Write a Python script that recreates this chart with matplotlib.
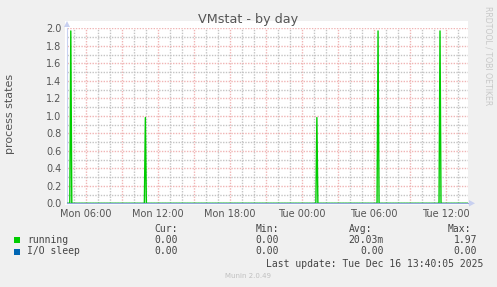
import matplotlib
matplotlib.use("Agg")
import matplotlib.pyplot as plt
import matplotlib.dates as mdates
from matplotlib.patches import Rectangle, Polygon
from datetime import datetime, timedelta

# data
spike_times = ["2025-12-15 04:45", "2025-12-15 10:58", "2025-12-16 01:16",
               "2025-12-16 06:22", "2025-12-16 11:32"]
spike_vals = [1.97, 0.98, 0.98, 1.97, 1.97]
x_start = "2025-12-15 04:26"
x_end = "2025-12-16 13:52"

series_names = ["running", "I/O sleep"]
series_colors = ["#00CC00", "#0066B3"]
cur_vals = ["0.00", "0.00"]
min_vals = ["0.00", "0.00"]
avg_vals = ["20.03m", "0.00"]
max_vals = ["1.97", "0.00"]

W, H = 497, 287
fmt = "%Y-%m-%d %H:%M"
t0 = datetime.strptime(x_start, fmt)
t1 = datetime.strptime(x_end, fmt)

# build the running line: flat zero with narrow spikes (5 min samples)
step = timedelta(minutes=5)
xs, ys = [t0], [0.0]
for ts, v in zip(spike_times, spike_vals):
    t = datetime.strptime(ts, fmt)
    xs += [t - step, t, t + step]
    ys += [0.0, v, 0.0]
xs.append(t1)
ys.append(0.0)

fig = plt.figure(figsize=(W / 100, H / 100), dpi=100, facecolor="#F0F0F0")


def fx(x):
    return x / W


def fy(y):
    return 1 - y / H


left, right, top, bottom = 67, 468, 28.3, 203.3
# white canvas behind the plot (a bit taller than the grid)
fig.add_artist(Rectangle((fx(65), fy(205)), fx(468) - fx(65), fy(21) - fy(205),
                         transform=fig.transFigure, facecolor="white",
                         edgecolor="none", zorder=0))
ax = fig.add_axes([fx(left), fy(bottom), fx(right) - fx(left), fy(top) - fy(bottom)])
ax.set_facecolor("white")

ax.plot(xs, ys, color=series_colors[0], lw=1.0, zorder=3)
ax.plot([t0, t1], [0, 0], color=series_colors[1], lw=1.0, alpha=0.35, zorder=3)

ax.set_xlim(t0, t1)
ax.set_ylim(0, 2.0)

ax.yaxis.set_major_locator(plt.MultipleLocator(0.2))
ax.yaxis.set_minor_locator(plt.MultipleLocator(0.1))
ax.xaxis.set_major_locator(mdates.HourLocator(byhour=range(0, 24, 3)))
ax.xaxis.set_minor_locator(mdates.HourLocator())


def xlabel_fmt(v, pos):
    d = mdates.num2date(v)
    if d.hour % 6:
        return ""
    return d.strftime("%a %H:%M")


ax.xaxis.set_major_formatter(plt.FuncFormatter(xlabel_fmt))
ax.yaxis.set_major_formatter(plt.FuncFormatter(lambda v, p: "%.1f" % v))

ax.grid(which="major", color="#F0B4B4", linestyle=(0, (1, 1)), lw=1.0)
ax.grid(which="minor", color="#C4C4C4", linestyle=(0, (1, 1)), lw=1.0)
ax.set_axisbelow(True)

ax.tick_params(which="both", length=0, labelsize=7, labelcolor="#555555")
ax.tick_params(axis="x", pad=4)
ax.tick_params(axis="y", pad=4)
for s in ["top", "right"]:
    ax.spines[s].set_visible(False)
ax.spines["left"].set_color("#C8D0F0")
ax.spines["bottom"].set_color("#90A4D8")
ax.spines["left"].set_linewidth(0.8)
ax.spines["bottom"].set_linewidth(0.8)

fig.text(fx(10), fy(114), "process states", rotation=90, ha="center", va="center",
         fontsize=8, color="#555555")

# arrow heads at the axis ends
fig.add_artist(Polygon([(fx(64), fy(27)), (fx(70), fy(27)), (fx(67), fy(21))],
                       closed=True, transform=fig.transFigure,
                       facecolor="#C8D0F0", edgecolor="none"))
fig.add_artist(Polygon([(fx(469), fy(200)), (fx(469), fy(206.5)), (fx(475), fy(203.3))],
                       closed=True, transform=fig.transFigure,
                       facecolor="#C8D0F0", edgecolor="none"))

fig.text(0.5, fy(19), "VMstat - by day", ha="center", va="center",
         fontsize=9.2, color="#555555")
fig.text(fx(488), fy(56), "RRDTOOL / TOBI OETIKER", rotation=270,
         ha="center", va="center", fontsize=5.6, color="#C8C8C8")

# legend table
mono = dict(family="DejaVu Sans Mono", fontsize=7, color="#444444", va="center")
fig.text(fx(178), fy(228.5), "Cur:", ha="right", **mono)
fig.text(fx(279), fy(228.5), "Min:", ha="right", **mono)
fig.text(fx(372), fy(228.5), "Avg:", ha="right", **mono)
fig.text(fx(471), fy(228.5), "Max:", ha="right", **mono)
row_y = [240, 251.5]
for i, name in enumerate(series_names):
    y = row_y[i]
    fig.add_artist(Rectangle((fx(14), fy(y + 3)), fx(6), 6 / H,
                             transform=fig.transFigure,
                             facecolor=series_colors[i], edgecolor="none"))
    fig.text(fx(27), fy(y), name, ha="left", **mono)
    fig.text(fx(178), fy(y), cur_vals[i], ha="right", **mono)
    fig.text(fx(279), fy(y), min_vals[i], ha="right", **mono)
    fig.text(fx(384), fy(y), avg_vals[i], ha="right", **mono)
    fig.text(fx(477), fy(y), max_vals[i], ha="right", **mono)

fig.text(fx(483), fy(264), "Last update: Tue Dec 16 13:40:05 2025", ha="right", **mono)
fig.text(fx(248), fy(276.5), "Munin 2.0.49", ha="center", va="center",
         fontsize=5, color="#C0C0C0")

fig.savefig("out.png", dpi=100, facecolor=fig.get_facecolor())
